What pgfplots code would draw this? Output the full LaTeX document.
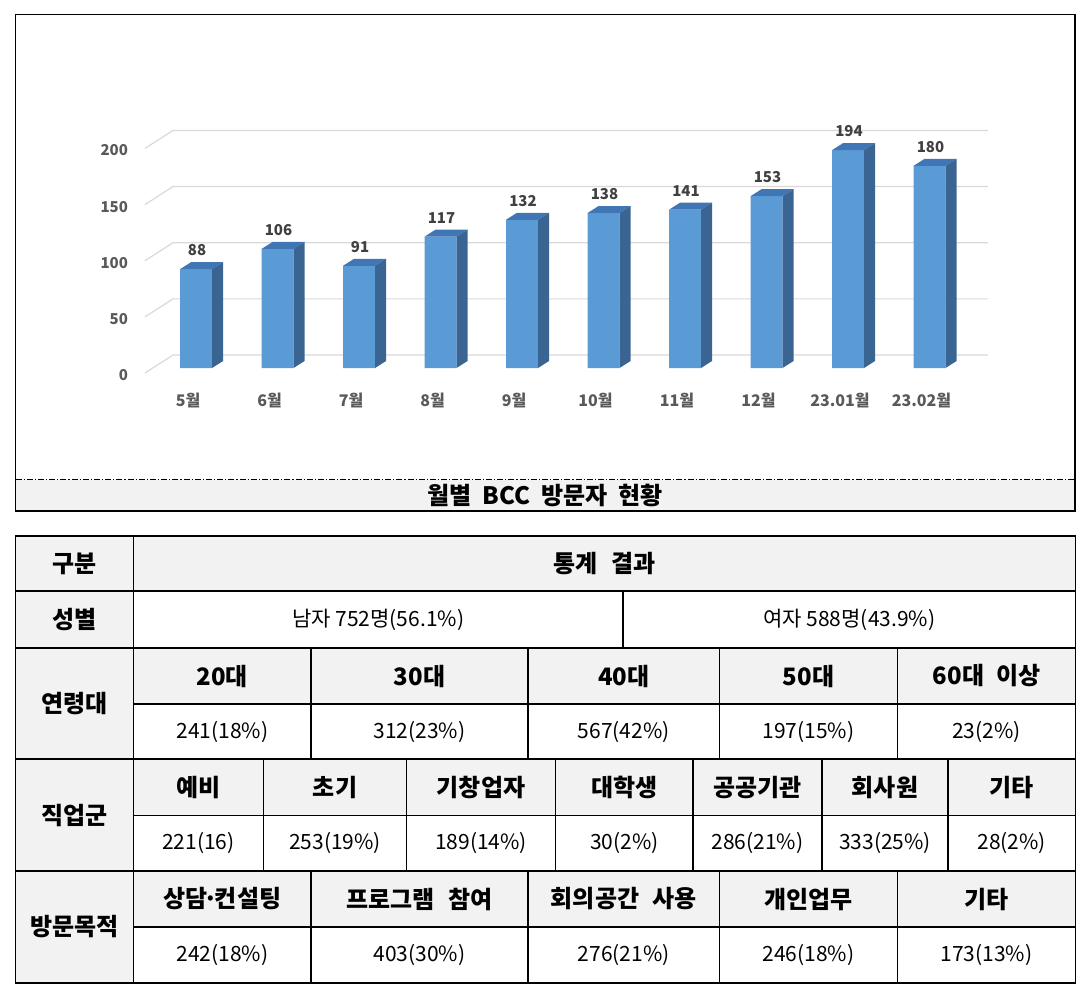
\documentclass[border=0pt]{standalone}
\usepackage{fontspec}
\setmainfont{Noto Sans CJK KR}
\usepackage{pgfplots}
\usepackage{pgfplotstable}
\pgfplotsset{compat=1.18}

\definecolor{barfront}{HTML}{5B9BD5}
\definecolor{bartop}{HTML}{4176B4}
\definecolor{barside}{HTML}{3A6592}
\definecolor{gridc}{HTML}{D9D9D9}
\definecolor{axtext}{HTML}{595959}
\definecolor{valtext}{HTML}{404040}
\definecolor{hdr}{HTML}{F2F2F2}

\pgfplotstableread{
i v
0 88
1 106
2 91
3 117
4 132
5 138
6 141
7 153
8 194
9 180
}\visitors

\pgfdeclareplotmark{box3d}{%
  \pgfmathsetlengthmacro\hb{3.5pt-\barval*0.5615pt}%
  \pgfmathsetlengthmacro\hf{-\barval*0.5615pt}%
  \pgfpathmoveto{\pgfpoint{-8pt}{0pt}}%
  \pgfpathlineto{\pgfpoint{-2.5pt}{3.5pt}}%
  \pgfpathlineto{\pgfpoint{13.5pt}{3.5pt}}%
  \pgfpathlineto{\pgfpoint{8pt}{0pt}}%
  \pgfpathclose
  \pgfsetfillcolor{bartop}\pgfusepath{fill}%
  \pgfpathmoveto{\pgfpoint{8pt}{0pt}}%
  \pgfpathlineto{\pgfpoint{13.5pt}{3.5pt}}%
  \pgfpathlineto{\pgfpoint{13.5pt}{\hb}}%
  \pgfpathlineto{\pgfpoint{8pt}{\hf}}%
  \pgfpathclose
  \pgfsetfillcolor{barside}\pgfusepath{fill}%
}

\newcommand\hd{\bfseries\fontsize{12}{14}\selectfont}
\newcommand\vl{\fontsize{10.5}{12}\selectfont}

\begin{document}
\begin{tikzpicture}
\begin{scope}[x=0.5pt,y=-0.5pt]
\useasboundingbox (0,0) rectangle (1085,992);
% chart frame
\fill[hdr] (15.5,479.5) rectangle (1075,511);
\draw[line width=0.55pt] (15.5,14.5) rectangle (1075,511);
\draw[line width=0.45pt, dash pattern=on 3pt off 1pt on 0.6pt off 1pt] (15.5,479.5) -- (1075,479.5);
\node[font=\bfseries\fontsize{12}{14}\selectfont] at (545,495.5) {월별\hspace{0.45em}BCC\hspace{0.45em}방문자\hspace{0.45em}현황};

% table backgrounds
\fill[hdr] (15.5,536) rectangle (133.5,983);
\fill[hdr] (133.5,536) rectangle (1075.5,591);
\fill[hdr] (133.5,648) rectangle (1075.5,704);
\fill[hdr] (133.5,759) rectangle (1075.5,815.5);
\fill[hdr] (133.5,871) rectangle (1075.5,927);
% table lines
\begin{scope}[line width=0.6pt]
\draw (15.5,536) rectangle (1075.5,983);
\draw (15.5,591) -- (1075.5,591);
\draw (15.5,648) -- (1075.5,648);
\draw (133.5,704) -- (1075.5,704);
\draw (15.5,759) -- (1075.5,759);
\draw (133.5,815.5) -- (1075.5,815.5);
\draw (15.5,871) -- (1075.5,871);
\draw (133.5,927) -- (1075.5,927);
\draw (133.5,536) -- (133.5,983);
\draw (623,591) -- (623,648);
\foreach \c in {311,528,719.5,897.5} {\draw (\c,648) -- (\c,759); \draw (\c,871) -- (\c,983);}
\foreach \c in {263.5,406.5,555.5,693,822,948} {\draw (\c,759) -- (\c,871);}
\end{scope}
% table text
\node[font=\hd] at (74.5,563.5) {구분};
\node[font=\hd] at (604.5,563.5) {통계\hspace{0.55em}결과};
\node[font=\hd] at (74.5,619.5) {성별};
\node[font=\vl] at (378.25,619.5) {남자 752명(56.1\%)};
\node[font=\vl] at (849.25,619.5) {여자 588명(43.9\%)};
\node[font=\hd] at (74.5,703.5) {연령대};
\foreach \x/\h/\v in {222.25/20대/241(18\%), 419.5/30대/312(23\%), 623.75/40대/567(42\%), 808.5/50대/197(15\%), 986.5/60대\hspace{0.5em}이상/23(2\%)} {
  \node[font=\hd] at (\x,676) {\h};
  \node[font=\vl] at (\x,731.5) {\v};
}
\node[font=\hd] at (74.5,815) {직업군};
\foreach \x/\h/\v in {198.5/예비/221(16), 335/초기/253(19\%), 481/기창업자/189(14\%), 624.25/대학생/30(2\%), 757.5/공공기관/286(21\%), 885/회사원/333(25\%), 1011.75/기타/28(2\%)} {
  \node[font=\hd] at (\x,787.25) {\h};
  \node[font=\vl] at (\x,843.25) {\v};
}
\node[font=\hd] at (74.5,927) {방문목적};
\foreach \x/\h/\v in {222.25/상담{\kern-0.15em}·{\kern-0.15em}컨설팅/242(18\%), 419.5/프로그램\hspace{0.55em}참여/403(30\%), 623.75/회의공간\hspace{0.55em}사용/276(21\%), 808.5/개인업무/246(18\%), 986.5/기타/173(13\%)} {
  \node[font=\hd] at (\x,899) {\h};
  \node[font=\vl] at (\x,955) {\v};
}
\end{scope}

\begin{axis}[
  at={(72.5pt,-184pt)}, anchor=south west,
  x=40.75pt, y=0.5615pt,
  xmin=-0.626, xmax=9.72, ymin=0, ymax=200,
  clip=false,
  axis line style={draw=none},
  major tick length=0pt,
  /pgf/number format/assume math mode=true,
  xtick={0,...,9},
  xticklabels={5월,6월,7월,8월,9월,10월,11월,12월,23.01월,23.02월},
  xticklabel style={font=\bfseries\fontsize{8}{9}\selectfont, text=axtext, anchor=center, yshift=-16pt, xshift=-4pt},
  ytick={0,50,100,150,200},
  yticklabels={0,50,100,150,200},
  yticklabel style={font=\bfseries\fontsize{7.5}{9}\selectfont, text=axtext, anchor=east, xshift=-5pt, yshift=-3.5pt},
]
\draw[gridc, line width=0.6pt] (axis cs:-0.626,-4.45) -- (axis cs:-0.282,11.58) -- (axis cs:9.718,11.58);
\draw[gridc, line width=0.6pt] (axis cs:-0.626,45.55) -- (axis cs:-0.282,61.58) -- (axis cs:9.718,61.58);
\draw[gridc, line width=0.6pt] (axis cs:-0.626,95.55) -- (axis cs:-0.282,111.58) -- (axis cs:9.718,111.58);
\draw[gridc, line width=0.6pt] (axis cs:-0.626,145.55) -- (axis cs:-0.282,161.58) -- (axis cs:9.718,161.58);
\draw[gridc, line width=0.6pt] (axis cs:-0.626,195.55) -- (axis cs:-0.282,211.58) -- (axis cs:9.718,211.58);
\addplot[ybar, bar width=16pt, bar shift=0pt, fill=barfront, draw=none] table[x=i,y=v] {\visitors};
\addplot[only marks, mark=box3d,
  visualization depends on={\thisrow{v} \as \barval},
  nodes near coords,
  every node near coord/.append style={font=\bfseries\fontsize{7.5}{9}\selectfont, text=valtext, anchor=center, yshift=9.5pt, xshift=0.5pt},
] table[x=i,y=v] {\visitors};
\end{axis}
\end{tikzpicture}
\end{document}
